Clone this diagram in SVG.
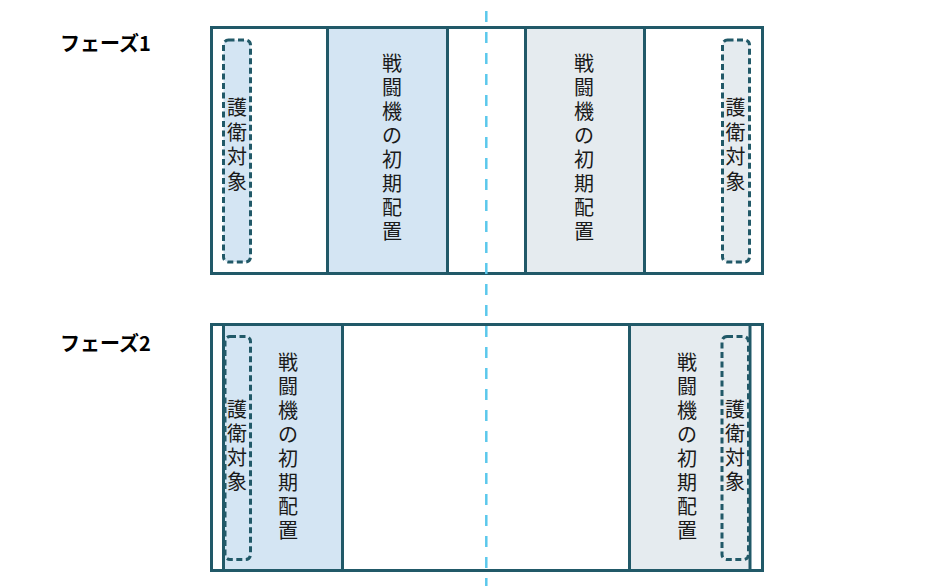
<svg xmlns="http://www.w3.org/2000/svg" width="930" height="586" viewBox="0 0 930 586">
<style>
.frame{fill:none;stroke:#215968;stroke-width:3}
.div{stroke:#215968;stroke-width:3}
.blue{fill:#D4E5F3}
.gray{fill:#E5EBEF}
.guard{stroke:#215968;stroke-width:3;stroke-dasharray:6 3.5}
.vt{font-family:"Noto Sans CJK JP","Noto Sans",sans-serif;font-size:20px;fill:#1a1a1a;text-anchor:middle}
.lbl{font-family:"Noto Sans CJK JP","Noto Sans",sans-serif;font-size:20px;font-weight:bold;fill:#000}
.center{stroke:#5BC8EC;stroke-width:2.5;stroke-dasharray:11 10;fill:none}
</style>
<rect width="930" height="586" fill="#fff"/>

<g id="label-phase1"><text class="lbl" x="60" y="51">フェーズ1</text></g>
<g id="label-phase2"><text class="lbl" x="60" y="351">フェーズ2</text></g>

<!-- Phase 1 -->
<g id="phase1">
  <rect class="blue" x="327" y="27.5" width="120" height="246"/>
  <rect class="gray" x="525.5" y="27.5" width="119" height="246"/>
  <line class="div" x1="327.5" y1="27.5" x2="327.5" y2="273.5"/>
  <line class="div" x1="447.5" y1="27.5" x2="447.5" y2="273.5"/>
  <line class="div" x1="525.5" y1="27.5" x2="525.5" y2="273.5"/>
  <line class="div" x1="644.5" y1="27.5" x2="644.5" y2="273.5"/>
  <rect class="frame" x="211.5" y="27.5" width="551" height="246"/>
</g>
<g id="p1-guard-left">
  <rect class="blue guard" x="223.5" y="40" width="27" height="222" rx="5"/>
  <text class="vt" x="237" y="115"><tspan x="237">護</tspan><tspan x="237" dy="24.5">衛</tspan><tspan x="237" dy="24.5">対</tspan><tspan x="237" dy="24.5">象</tspan></text>
</g>
<g id="p1-fighter-left">
  <text class="vt" x="392" y="71"><tspan x="392">戦</tspan><tspan x="392" dy="24">闘</tspan><tspan x="392" dy="24">機</tspan><tspan x="392" dy="24">の</tspan><tspan x="392" dy="24">初</tspan><tspan x="392" dy="24">期</tspan><tspan x="392" dy="24">配</tspan><tspan x="392" dy="24">置</tspan></text>
</g>
<g id="p1-fighter-right">
  <text class="vt" x="584" y="71"><tspan x="584">戦</tspan><tspan x="584" dy="24">闘</tspan><tspan x="584" dy="24">機</tspan><tspan x="584" dy="24">の</tspan><tspan x="584" dy="24">初</tspan><tspan x="584" dy="24">期</tspan><tspan x="584" dy="24">配</tspan><tspan x="584" dy="24">置</tspan></text>
</g>
<g id="p1-guard-right">
  <rect class="gray guard" x="722.5" y="40" width="27" height="222" rx="5"/>
  <text class="vt" x="735.5" y="115"><tspan x="735.5">護</tspan><tspan x="735.5" dy="24.5">衛</tspan><tspan x="735.5" dy="24.5">対</tspan><tspan x="735.5" dy="24.5">象</tspan></text>
</g>

<!-- Phase 2 -->
<g id="phase2">
  <rect class="blue" x="223.5" y="324.5" width="119" height="246"/>
  <rect class="gray" x="629.5" y="324.5" width="120.5" height="246"/>
  <line class="div" x1="223.5" y1="324.5" x2="223.5" y2="570.5"/>
  <line class="div" x1="342.5" y1="324.5" x2="342.5" y2="570.5"/>
  <line class="div" x1="629.5" y1="324.5" x2="629.5" y2="570.5"/>
  <line class="div" x1="750" y1="324.5" x2="750" y2="570.5"/>
  <rect class="frame" x="211.5" y="324.5" width="551" height="246"/>
</g>
<g id="p2-guard-left">
  <rect class="blue guard" x="225" y="336.5" width="25.5" height="223" rx="5"/>
  <text class="vt" x="237" y="417"><tspan x="237">護</tspan><tspan x="237" dy="24">衛</tspan><tspan x="237" dy="24">対</tspan><tspan x="237" dy="24">象</tspan></text>
</g>
<g id="p2-fighter-left">
  <text class="vt" x="288" y="370"><tspan x="288">戦</tspan><tspan x="288" dy="24">闘</tspan><tspan x="288" dy="24">機</tspan><tspan x="288" dy="24">の</tspan><tspan x="288" dy="24">初</tspan><tspan x="288" dy="24">期</tspan><tspan x="288" dy="24">配</tspan><tspan x="288" dy="24">置</tspan></text>
</g>
<g id="p2-fighter-right">
  <text class="vt" x="687" y="370"><tspan x="687">戦</tspan><tspan x="687" dy="24">闘</tspan><tspan x="687" dy="24">機</tspan><tspan x="687" dy="24">の</tspan><tspan x="687" dy="24">初</tspan><tspan x="687" dy="24">期</tspan><tspan x="687" dy="24">配</tspan><tspan x="687" dy="24">置</tspan></text>
</g>
<g id="p2-guard-right">
  <rect class="gray guard" x="722" y="336.5" width="26.5" height="223" rx="5"/>
  <text class="vt" x="735" y="417"><tspan x="735">護</tspan><tspan x="735" dy="24">衛</tspan><tspan x="735" dy="24">対</tspan><tspan x="735" dy="24">象</tspan></text>
</g>

<g id="connectors">
  <line class="center" x1="486.3" y1="11" x2="486.3" y2="586"/>
</g>
</svg>
